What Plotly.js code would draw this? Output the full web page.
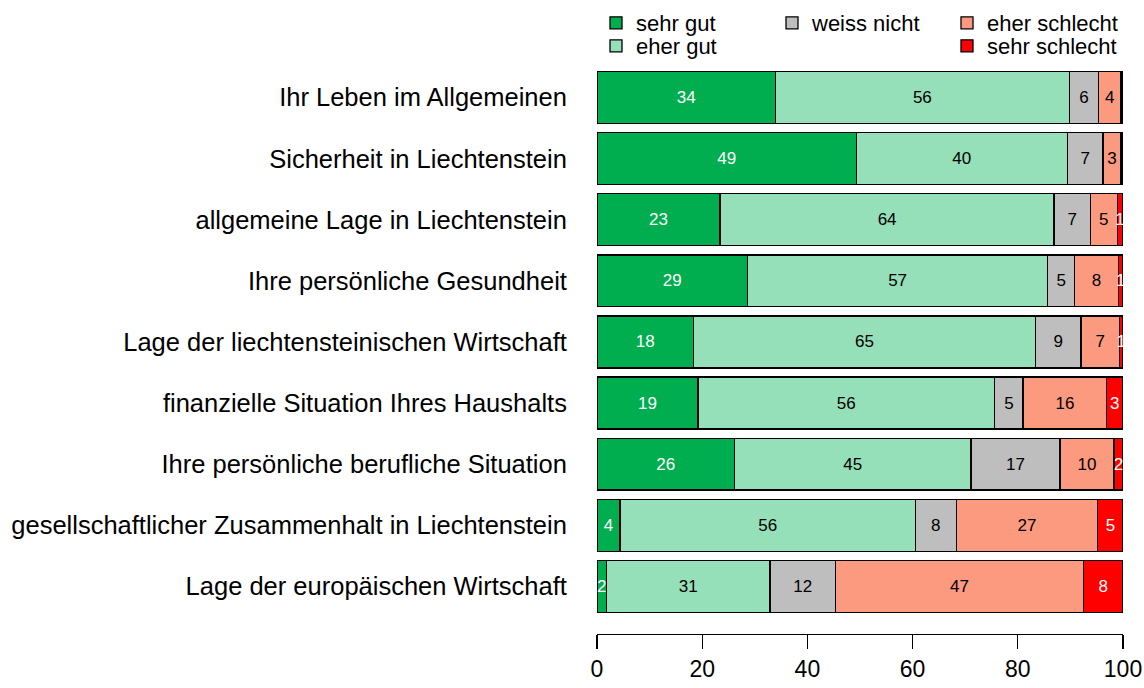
<!DOCTYPE html>
<html>
<head>
<meta charset="utf-8">
<script src="https://cdn.plot.ly/plotly-3.0.1.min.js"></script>
<style>
	body { margin: 0; background: #ffffff; }
	#chart { width: 1144px; height: 688px; }
</style>
</head>
<body>
<div id="chart"></div>
<script>

// categories, top to bottom
var categories = [
	'Ihr Leben im Allgemeinen',
	'Sicherheit in Liechtenstein',
	'allgemeine Lage in Liechtenstein',
	'Ihre persönliche Gesundheit',
	'Lage der liechtensteinischen Wirtschaft',
	'finanzielle Situation Ihres Haushalts',
	'Ihre persönliche berufliche Situation',
	'gesellschaftlicher Zusammenhalt in Liechtenstein',
	'Lage der europäischen Wirtschaft'
];

// shares in percent
var sehrGut      = [33.9, 49.3, 23.4, 28.6, 18.3, 19.2, 26.1,  4.4,  1.8];
var eherGut      = [55.9, 40.1, 63.5, 57.1, 65.1, 56.4, 45.0, 56.1, 31.1];
var weissNicht   = [ 5.6,  6.8,  6.9,  5.1,  8.6,  5.4, 16.9,  7.8, 12.4];
var eherSchlecht = [ 4.2,  3.4,  5.1,  8.3,  7.3, 15.9, 10.3, 26.9, 47.2];
var sehrSchlecht = [ 0.4,  0.4,  1.1,  0.9,  0.7,  3.1,  1.7,  4.8,  7.5];

var seriesNames = ['sehr gut', 'eher gut', 'weiss nicht', 'eher schlecht', 'sehr schlecht'];
var seriesValues = [sehrGut, eherGut, weissNicht, eherSchlecht, sehrSchlecht];
var seriesColors = ['#00ad4f', '#95dfb9', '#bebebe', '#fc9a80', '#ff0000'];
var textColors = ['#ffffff', '#000000', '#000000', '#000000', '#ffffff'];

var xTicks = [0, 20, 40, 60, 80, 100];

var FONT = '"Liberation Sans", Arial, Helvetica, sans-serif';

// legend placement (container coords), one legend per item
var legendPos = [
	{x: 596 / 1144, y: 1 - 23 / 688},
	{x: 596 / 1144, y: 1 - 46 / 688},
	{x: 772 / 1144, y: 1 - 23 / 688},
	{x: 947 / 1144, y: 1 - 23 / 688},
	{x: 947 / 1144, y: 1 - 46 / 688}
];

var traces = [];
var layout = {
	width: 1144, height: 688,
	margin: {l: 597, r: 21, t: 67, b: 54, autoexpand: false},
	paper_bgcolor: '#ffffff',
	plot_bgcolor: '#ffffff',
	font: {family: FONT, color: '#000000'},
	showlegend: true,
	barmode: 'stack',
	bargap: 0.15,
	uniformtext: {mode: 'show', minsize: 17},
	xaxis: {
		range: [0, 100],
		tickvals: xTicks,
		ticktext: xTicks.map(String),
		showgrid: false,
		zeroline: false,
		showline: true,
		linecolor: '#000000',
		linewidth: 1.3,
		ticks: 'outside',
		ticklen: 14,
		tickwidth: 1.3,
		tickcolor: '#000000',
		tickfont: {size: 23, family: FONT},
		fixedrange: true
	},
	yaxis: {
		type: 'category',
		range: [8.78, -0.5],
		showgrid: false,
		zeroline: false,
		showline: false,
		ticks: 'outside',
		ticklen: 24,
		tickcolor: 'rgba(0,0,0,0)',
		tickfont: {size: 25.5, family: FONT},
		fixedrange: true
	}
};

for (var i = 0; i < seriesNames.length; i++) {
	var legendId = i == 0 ? 'legend' : 'legend' + (i + 1);

	traces.push({
		type: 'bar',
		orientation: 'h',
		name: seriesNames[i],
		y: categories,
		x: seriesValues[i],
		text: seriesValues[i].map(v => Math.round(v) >= 1 ? String(Math.round(v)) : ''),
		textposition: 'inside',
		insidetextanchor: 'middle',
		textangle: 0,
		constraintext: 'none',
		textfont: {size: 17, color: textColors[i], family: FONT},
		marker: {color: seriesColors[i], line: {color: '#000000', width: 1.3}},
		legend: legendId,
		showlegend: true,
		hoverinfo: 'skip'
	});

	layout[legendId] = {
		x: legendPos[i].x, y: legendPos[i].y,
		xref: 'container', yref: 'container',
		xanchor: 'left', yanchor: 'middle',
		bgcolor: 'rgba(0,0,0,0)',
		borderwidth: 0,
		font: {size: 22, family: FONT, color: '#000000'}
	};
}

Plotly.newPlot('chart', traces, layout, {displayModeBar: false, staticPlot: true});

</script>
</body>
</html>
